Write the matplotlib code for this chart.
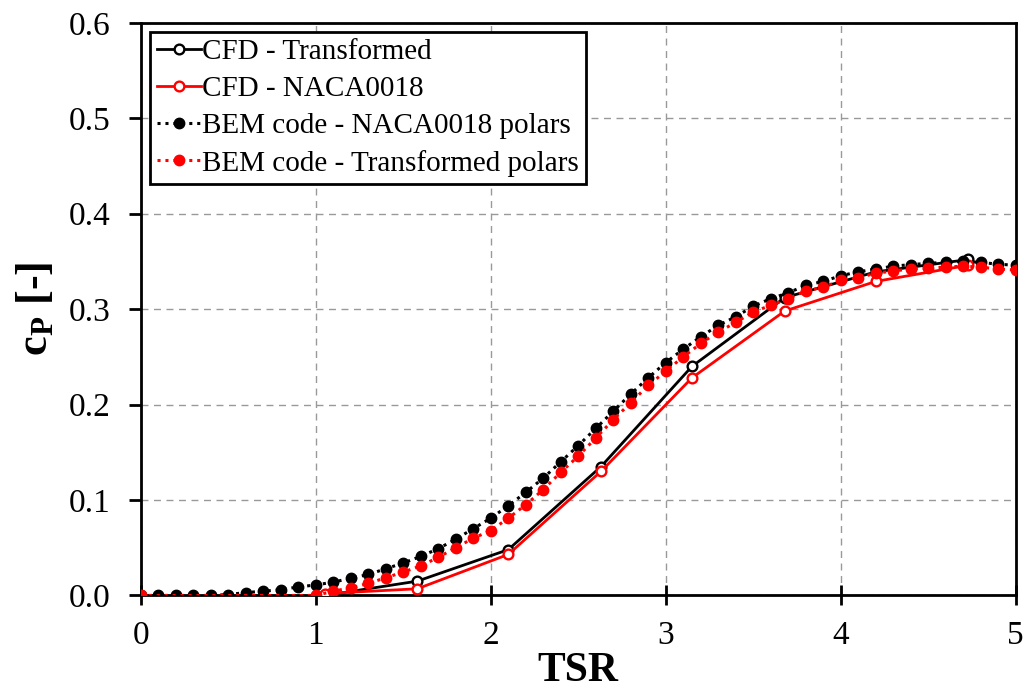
import matplotlib.pyplot as plt
import numpy as np

# CFD data (TSR, cp)
tsr_cfd = [1.05, 1.58, 2.10, 2.63, 3.15, 3.68, 4.20, 4.73]
cp_cfd_transformed = [0.000, 0.015, 0.048, 0.135, 0.240, 0.312, 0.339, 0.352]
cp_cfd_naca = [0.002, 0.007, 0.043, 0.130, 0.228, 0.298, 0.329, 0.346]

# BEM data, every 0.1 TSR
tsr_bem_naca = [round(0.1 * i, 1) for i in range(51)]
cp_bem_naca = [0.000, 0.000, 0.000, 0.000, 0.000, 0.001, 0.003, 0.0045, 0.006, 0.009,
               0.011, 0.014, 0.018, 0.022, 0.028, 0.034, 0.041, 0.049, 0.059, 0.070,
               0.081, 0.094, 0.108, 0.123, 0.140, 0.157, 0.175, 0.193, 0.211, 0.228,
               0.244, 0.258, 0.271, 0.283, 0.292, 0.303, 0.311, 0.317, 0.325, 0.329,
               0.335, 0.339, 0.342, 0.345, 0.3466, 0.348, 0.349, 0.350, 0.349, 0.347,
               0.346]

tsr_bem_transf = [0.0] + [round(1.0 + 0.1 * i, 1) for i in range(41)]
cp_bem_transf = [0.000,
                 0.000, 0.0045, 0.008, 0.0126, 0.0186, 0.0245, 0.031, 0.040, 0.050, 0.060,
                 0.068, 0.081, 0.095, 0.111, 0.129, 0.146, 0.165, 0.184, 0.202, 0.220,
                 0.235, 0.250, 0.264, 0.276, 0.286, 0.297, 0.304, 0.311, 0.319, 0.323,
                 0.330, 0.333, 0.3375, 0.340, 0.342, 0.343, 0.344, 0.345, 0.344, 0.342,
                 0.341]

plt.rcParams['font.family'] = ['Liberation Serif', 'DejaVu Serif']
plt.rcParams['mathtext.fontset'] = 'custom'
plt.rcParams['mathtext.rm'] = 'Liberation Serif'
plt.rcParams['mathtext.bf'] = 'Liberation Serif:bold'

fig = plt.figure(figsize=(10.28, 6.9), dpi=100)
ax = fig.add_axes([0.137, 0.137, 0.851, 0.830])

ax.plot(tsr_cfd, cp_cfd_transformed, color='k', linestyle='-', linewidth=2.0,
        marker='o', markersize=7, markerfacecolor='white', markeredgewidth=1.7,
        label='CFD - Transformed', zorder=4)
ax.plot(tsr_cfd, cp_cfd_naca, color='red', linestyle='-', linewidth=2.0,
        marker='o', markersize=7, markerfacecolor='white', markeredgewidth=1.7,
        label='CFD - NACA0018', zorder=4)
ax.plot(tsr_bem_naca, cp_bem_naca, color='k', linestyle=(0, (1, 1.6)), linewidth=2.2,
        marker='o', markersize=7.5, label='BEM code - NACA0018 polars', zorder=5)
ax.plot(tsr_bem_transf, cp_bem_transf, color='red', linestyle=(0, (1, 1.6)), linewidth=2.2,
        marker='o', markersize=7.5, label='BEM code - Transformed polars', zorder=6)

ax.set_xlim(0, 5)
ax.set_ylim(0, 0.6)
ax.set_xticks(np.arange(0, 6, 1))
ax.set_yticks(np.arange(0, 0.61, 0.1))
ax.set_yticklabels([f'{v:.1f}' for v in np.arange(0, 0.61, 0.1)])

ax.grid(True, color='#999999', linestyle=(0, (5, 4)), linewidth=1.0)
for s in ax.spines.values():
    s.set_linewidth(2.0)
ax.tick_params(axis='x', direction='inout', length=14, width=2.0, labelsize=24, pad=11)
ax.tick_params(axis='y', direction='out', length=9, width=2.0, labelsize=24, pad=13)

ax.set_xlabel('TSR', fontsize=30, fontweight='bold', labelpad=1)
ax.set_ylabel(r'$\mathbf{c_P}$ [-]', fontsize=32, fontweight='bold', labelpad=9)

leg = ax.legend(loc='upper left', fontsize=21, handlelength=1.5, handletextpad=0.05,
                borderpad=0.25, labelspacing=0.36, borderaxespad=0.3, fancybox=False,
                framealpha=1, edgecolor='k')
leg.get_frame().set_linewidth(2.0)
leg.set_zorder(10)

fig.savefig('out.png', dpi=100)
